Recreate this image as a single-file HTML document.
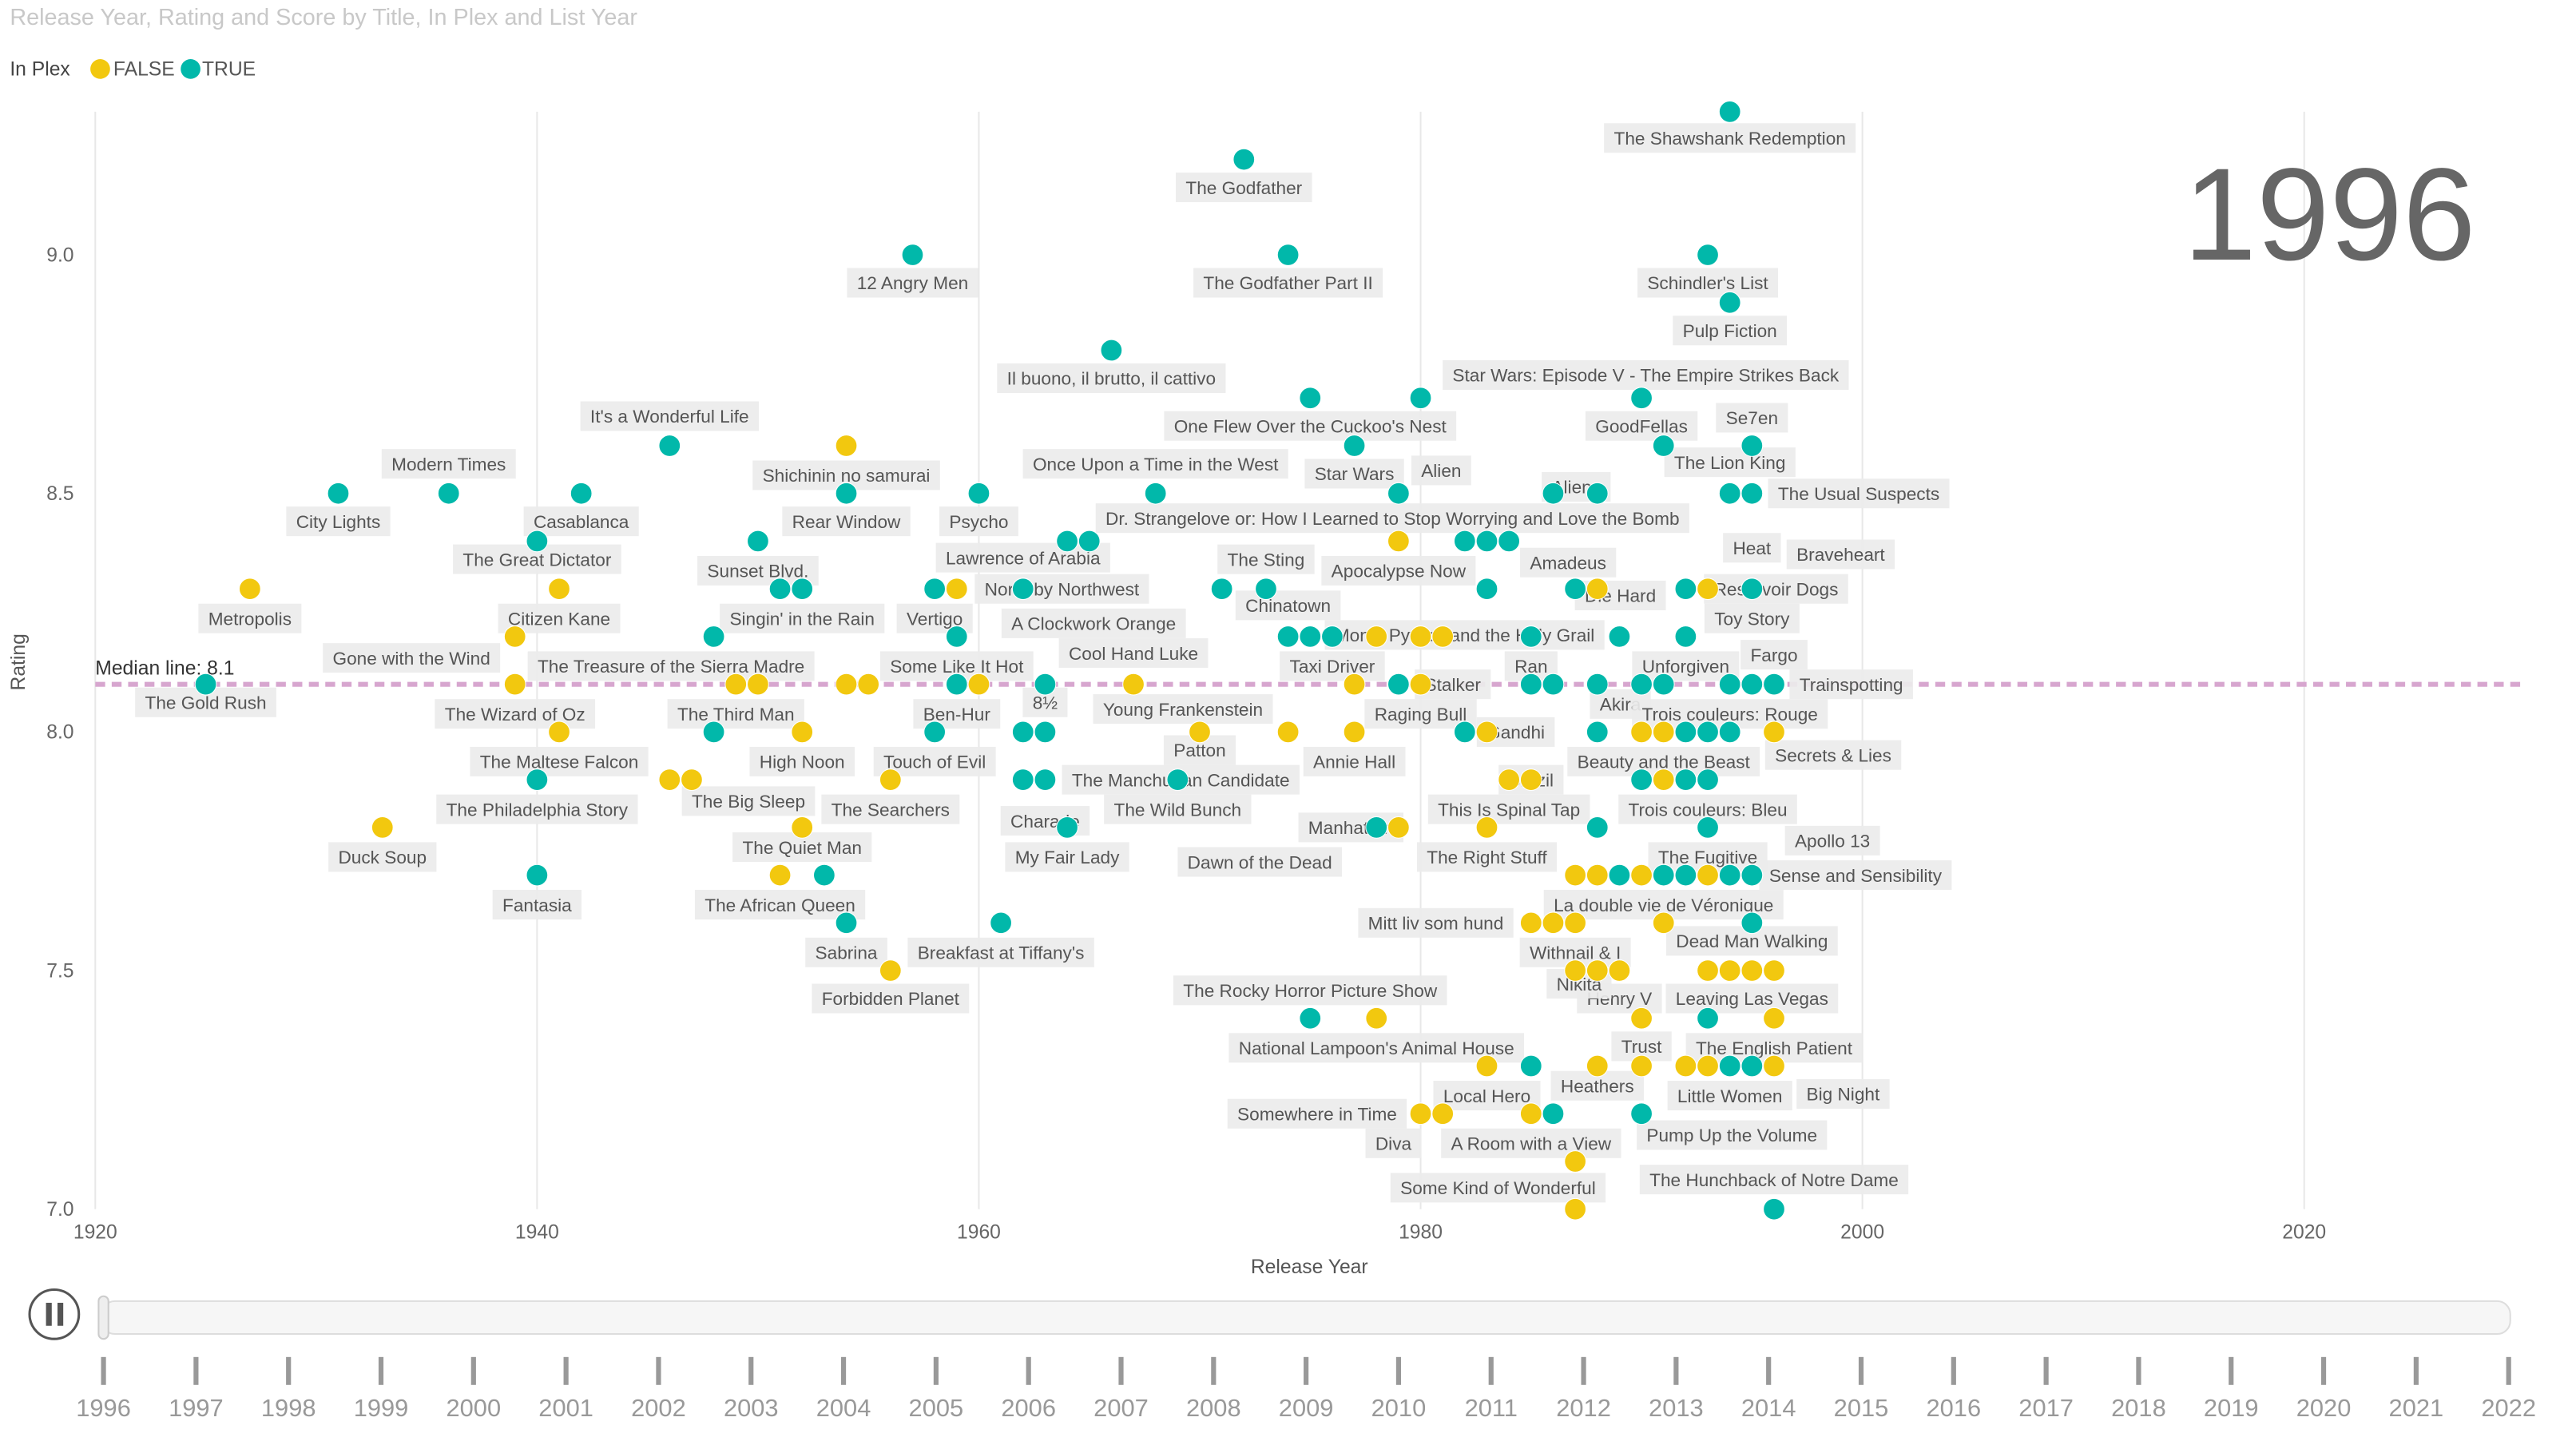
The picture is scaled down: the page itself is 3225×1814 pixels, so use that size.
<!DOCTYPE html>
<html><head><meta charset="utf-8">
<style>
html,body{margin:0;padding:0;background:#fff;}
svg{display:block;font-family:"Liberation Sans",sans-serif;}
</style></head>
<body>
<svg id="chart" width="3225" height="1814" viewBox="0 0 1568 882" preserveAspectRatio="none" xmlns="http://www.w3.org/2000/svg">
<text x="6" y="15" font-size="14" fill="#c8c8c8">Release Year, Rating and Score by Title, In Plex and List Year</text>
<g>
<text x="6" y="46" font-size="12" fill="#444">In Plex</text>
<circle cx="61" cy="42" r="6" fill="#F2C80F"/>
<text x="69" y="46" font-size="12" fill="#555">FALSE</text>
<circle cx="116" cy="42" r="6" fill="#01B8AA"/>
<text x="123" y="46" font-size="12" fill="#555">TRUE</text>
</g>
<g id="grid"></g>
<g id="axes"></g>
<text x="1418" y="158" font-size="80" fill="#666" text-anchor="middle">1996</text>
<g id="median"></g>
<g id="labels"></g>
<g id="points"></g>
<g id="player"></g>
</svg>
<script>
// Data
const titles = ["The Shawshank Redemption","The Godfather","12 Angry Men","The Godfather Part II","Schindler's List","Pulp Fiction","Il buono, il brutto, il cattivo","One Flew Over the Cuckoo's Nest","Star Wars: Episode V - The Empire Strikes Back","GoodFellas","It's a Wonderful Life","Shichinin no samurai","Star Wars","Se7en","The Lion King","The Usual Suspects","Modern Times","City Lights","Casablanca","Psycho","Once Upon a Time in the West","Alien","Aliens","Rear Window","Dr. Strangelove or: How I Learned to Stop Worrying and Love the Bomb","Sunset Blvd.","Lawrence of Arabia","Metropolis","The Great Dictator","Citizen Kane","Apocalypse Now","Amadeus","The Sting","Heat","Braveheart","Toy Story","Reservoir Dogs","Die Hard","Singin' in the Rain","Vertigo","North by Northwest","A Clockwork Orange","Chinatown","Gone with the Wind","The Treasure of the Sierra Madre","Some Like It Hot","Cool Hand Luke","Monty Python and the Holy Grail","Taxi Driver","Ran","Unforgiven","Fargo","Trainspotting","Stalker","Akira","The Gold Rush","The Wizard of Oz","The Third Man","Ben-Hur","8½","Young Frankenstein","Raging Bull","Gandhi","Trois couleurs: Rouge","The Maltese Falcon","High Noon","Touch of Evil","Patton","Annie Hall","Beauty and the Beast","Secrets & Lies","The Philadelphia Story","The Big Sleep","The Searchers","The Manchurian Candidate","Charade","The Wild Bunch","Brazil","This Is Spinal Tap","Trois couleurs: Bleu","Duck Soup","The Quiet Man","Manhattan","Dawn of the Dead","My Fair Lady","The Right Stuff","Apollo 13","The Fugitive","Sense and Sensibility","Fantasia","The African Queen","La double vie de Véronique","Sabrina","Breakfast at Tiffany's","Mitt liv som hund","Dead Man Walking","Forbidden Planet","Withnail & I","The Rocky Horror Picture Show","Henry V","Leaving Las Vegas","National Lampoon's Animal House","Nikita","Trust","The English Patient","Heathers","Local Hero","Little Women","Big Night","Somewhere in Time","Diva","A Room with a View","Pump Up the Volume","Some Kind of Wonderful","The Hunchback of Notre Dame"];
const years = [1994,1972,1957,1974,1993,1994,1966,1975,1980,1990,1946,1954,1977,1995,1994,1995,1936,1931,1942,1960,1968,1979,1986,1954,1964,1950,1962,1927,1940,1941,1979,1984,1973,1995,1995,1995,1992,1988,1952,1958,1959,1971,1974,1939,1948,1959,1967,1975,1976,1985,1992,1996,1996,1979,1988,1925,1939,1949,1959,1963,1974,1980,1982,1994,1941,1952,1958,1970,1977,1991,1996,1940,1946,1956,1962,1963,1969,1985,1984,1993,1933,1952,1979,1978,1964,1983,1995,1993,1995,1940,1951,1991,1954,1961,1985,1995,1956,1987,1975,1989,1995,1978,1990,1990,1996,1988,1983,1994,1996,1980,1981,1985,1990,1987,1996];
const ratings = [9.3,9.2,9.0,9.0,9.0,8.9,8.8,8.7,8.7,8.7,8.6,8.6,8.6,8.6,8.5,8.5,8.5,8.5,8.5,8.5,8.5,8.5,8.5,8.5,8.4,8.4,8.3,8.3,8.4,8.3,8.4,8.4,8.3,8.3,8.3,8.3,8.3,8.3,8.3,8.3,8.3,8.3,8.2,8.2,8.2,8.2,8.1,8.2,8.2,8.2,8.2,8.1,8.1,8.1,8.1,8.1,8.1,8.1,8.1,8.1,8.0,8.1,8.0,8.0,8.0,8.0,8.0,8.0,8.0,8.0,8.0,7.9,7.9,7.9,7.9,7.9,7.9,7.9,7.9,7.9,7.8,7.8,7.8,7.8,7.8,7.8,7.7,7.8,7.7,7.7,7.7,7.7,7.6,7.6,7.6,7.6,7.5,7.6,7.4,7.5,7.5,7.4,7.4,7.3,7.4,7.3,7.3,7.3,7.3,7.2,7.2,7.2,7.2,7.1,7.0];
const inPlex = [1,1,1,1,1,1,1,1,1,1,1,0,1,1,1,1,1,1,1,1,1,1,1,1,1,1,1,0,1,0,0,1,1,1,1,1,1,0,1,1,0,1,1,0,1,1,0,1,1,1,1,1,1,1,1,1,0,0,1,1,0,0,1,1,0,0,1,0,0,0,0,1,0,0,1,1,1,0,0,1,0,0,0,1,1,0,1,1,1,1,0,1,1,1,0,1,0,0,1,0,0,0,0,0,0,0,0,1,0,0,0,0,1,0,1];
// label layout offsets (screen units, not data)
const lblDx = [0,0,0,0,0,0,0,0,137,0,0,0,0,0,0,65,0,0,0,0,0,26,14,0,198,0,0,0,0,0,0,36,0,0,54,0,55,14,0,0,64,-78,0,-63,-26,0,0,94,0,0,0,0,47,33,14,0,0,0,0,0,-64,0,31,0,0,0,0,0,0,0,36,0,48,0,96,0,0,0,0,0,0,0,-29,-71,0,0,49,0,63,0,0,0,0,0,-58,0,0,0,0,0,0,0,-38,0,0,0,0,0,42,-63,-30,0,55,-47,0];
const lblDy = [16,17,17,17,17,17,17,17,-14,17,-18,18,17,-17,-19,0,-18,17,17,17,-18,-14,-4,17,-14,18,-19,18,11,18,18,13,-18,-25,-21,18,0,4,18,18,0,21,-19,13,18,18,-19,-1,18,18,18,-18,0,0,12,11,18,18,18,11,-14,18,0,-11,18,18,18,11,18,18,14,18,13,18,0,25,18,0,18,18,18,12,0,21,18,18,-21,18,0,18,18,18,18,18,0,11,17,18,-17,17,17,18,-21,-12,18,12,18,18,17,0,18,18,13,16,-18];
// unlabeled points
const extraYears = [1991,1988,1994,1962,1987,1983,1982,1952,1992,1993,1983,1976,1978,1980,1981,1989,1990,1991,1994,1995,1960,1950,1954,1959,1985,1986,1962,1963,1964,1983,1977,1993,1994,1996,1990,1991,1992,1988,1987,1988,1989,1990,1992,1993,1994,1995,1991,1995,1993,1994,1995,1996,1987,1988,1986,1993,1996,1985,1986,1992,1993,1994,1995,1965,1951,1948,1953,1947,1955,1990,1988,1992,1987];
const extraRatings = [8.6,8.5,8.5,8.3,8.3,8.4,8.4,8.3,8.3,8.3,8.3,8.2,8.2,8.2,8.2,8.2,8.1,8.1,8.1,8.1,8.1,8.1,8.1,8.1,8.1,8.1,8.0,8.0,7.8,8.0,8.1,8.0,8.0,8.0,7.9,7.9,7.9,7.8,7.7,7.7,7.7,7.7,7.7,7.7,7.7,7.7,7.6,7.6,7.5,7.5,7.5,7.5,7.5,7.5,7.6,7.4,7.4,7.3,7.2,7.3,7.3,7.3,7.3,8.4,8.3,8.0,7.7,7.9,8.1,8.0,8.0,8.0,7.0];
const extraPlex = [1,1,1,1,1,1,1,1,1,0,1,0,0,0,0,1,1,1,1,1,0,0,0,1,1,1,1,1,1,0,0,1,1,0,1,0,1,1,0,0,1,0,1,0,1,1,0,1,0,0,1,0,0,0,0,1,0,1,1,0,0,0,1,1,1,1,1,0,0,0,1,1,0];
const xTicks = [1920,1940,1960,1980,2000,2020];
const yTicks = [7.0,7.5,8.0,8.5,9.0];
const playYears = [1996,1997,1998,1999,2000,2001,2002,2003,2004,2005,2006,2007,2008,2009,2010,2011,2012,2013,2014,2015,2016,2017,2018,2019,2020,2021,2022];
const medianValue = 8.1;

const NS="http://www.w3.org/2000/svg";
const X0=58,X1=1537,Y0=736,Y1=68;
const xs=y=>X0+(y-1920)*(X1-X0)/110;
const ys=r=>Y0-(r-7.0)*(Y0-Y1)/2.3;
const TEAL="#01B8AA",YEL="#F2C80F";
function mk(tag,attrs,parent){const e=document.createElementNS(NS,tag);for(const k in attrs)e.setAttribute(k,attrs[k]);parent.appendChild(e);return e;}
const grid=document.getElementById('grid'),axes=document.getElementById('axes');
xTicks.forEach(t=>{
  const l=mk('line',{x1:xs(t),x2:xs(t),y1:Y1,y2:Y0,stroke:'#e8e8e8','stroke-width':1},grid);
  
  
  const tx=mk('text',{x:xs(t),y:Y0+18,'font-size':12,fill:'#666','text-anchor':'middle'},axes);
  tx.textContent=t;
  
  
});
yTicks.forEach(t=>{
  const tx=mk('text',{x:45,y:ys(t)+4,'font-size':12,fill:'#666','text-anchor':'end'},axes);
  tx.textContent=t.toFixed(1);
  
  
});
let xt=mk('text',{x:797,y:775,'font-size':12,fill:'#555','text-anchor':'middle'},axes);xt.textContent='Release Year';


let yt=mk('text',{x:0,y:0,'font-size':12,fill:'#555','text-anchor':'middle',transform:'translate(15,403) rotate(-90)'},axes);yt.textContent='Rating';


// median
const med=document.getElementById('median');
let ml=mk('line',{x1:X0,x2:X1,y1:ys(medianValue),y2:ys(medianValue),stroke:'#d7a6cf','stroke-width':3,'stroke-dasharray':'6,4'},med);


let mt=mk('text',{x:58,y:ys(medianValue)-6,'font-size':12,fill:'#333'},med);mt.textContent='Median line: '+medianValue;


// points
const pts=document.getElementById('points'),lbls=document.getElementById('labels');
extraYears.forEach((y,i)=>{
  const c=mk('circle',{cx:xs(y),cy:ys(extraRatings[i]),r:6.5,fill:extraPlex[i]?TEAL:YEL,stroke:'#fff','stroke-width':0.5},pts);
  
  
});
titles.forEach((t,i)=>{
  const cx=xs(years[i]),cy=ys(ratings[i]);
  const c=mk('circle',{cx:cx,cy:cy,r:6.5,fill:inPlex[i]?TEAL:YEL,stroke:'#fff','stroke-width':0.5},pts);
  
  
  const lx=cx+lblDx[i],ly=cy+lblDy[i];
  const g=mk('g',{},lbls);
  
  
  const r=mk('rect',{x:lx,y:ly-9,width:10,height:18,fill:'#ececec',opacity:0.92},g);
  const tx=mk('text',{x:lx,y:ly+4,'font-size':11,fill:'#555','text-anchor':'middle'},g);
  tx.textContent=t;
  const w=tx.getComputedTextLength()+12;
  r.setAttribute('x',lx-w/2);r.setAttribute('width',w);
});
// play axis
const pl=document.getElementById('player');
let pc=mk('circle',{cx:33,cy:800,r:15,fill:'#fff',stroke:'#555','stroke-width':1.5},pl);


mk('rect',{x:28,y:793,width:3.5,height:14,fill:'#555'},pl);
mk('rect',{x:35,y:793,width:3.5,height:14,fill:'#555'},pl);
let tr=mk('rect',{x:62,y:792,width:1466,height:20,rx:8,fill:'#f6f6f6',stroke:'#ddd','stroke-width':1},pl);


let th=mk('rect',{x:60,y:789,width:6,height:26,rx:3,fill:'#eee',stroke:'#ccc'},pl);


const pxs=i=>63+i*(1527-63)/(playYears.length-1);
playYears.forEach((y,i)=>{
  mk('rect',{x:pxs(i)-1.5,y:826,width:3,height:17,fill:'#999'},pl);
  const tx=mk('text',{x:pxs(i),y:862,'font-size':15,fill:'#999','text-anchor':'middle'},pl);
  tx.textContent=y;
  
  
});
</script>
</body></html>
